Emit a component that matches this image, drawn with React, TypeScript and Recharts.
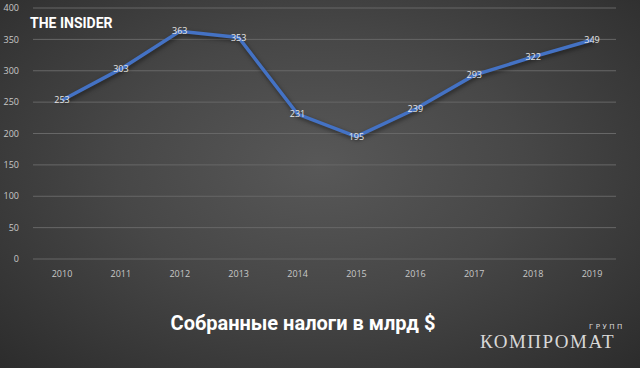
import { LineChart, Line, XAxis, YAxis, CartesianGrid, LabelList } from "recharts";

const years = ["2010", "2011", "2012", "2013", "2014", "2015", "2016", "2017", "2018", "2019"];
const taxes = [253, 303, 363, 353, 231, 195, 239, 293, 322, 349];
const yTicks = [0, 50, 100, 150, 200, 250, 300, 350, 400];

const data = years.map((year, i) => ({ year, value: taxes[i] }));

export default function App() {
  return (
    <div
      style={{
        position: "absolute",
        left: 0,
        top: 0,
        width: 640,
        height: 368,
        overflow: "hidden",
        background: "radial-gradient(ellipse at 50% 45%, #585858 0%, #474747 45%, #2c2c2c 100%)",
        fontFamily: "Roboto, 'Open Sans', sans-serif",
      }}
    >
      <LineChart
        width={640}
        height={290}
        data={data}
        margin={{ top: 8, right: 24, bottom: 0, left: 0 }}
      >
        <CartesianGrid vertical={false} stroke="#676767" strokeWidth={1} />
        <XAxis
          dataKey="year"
          axisLine={false}
          tickLine={false}
          height={31}
          tickMargin={6}
          padding={{ left: 29, right: 24 }}
          tick={{ fill: "#c8c8c8", fontSize: 9, fontFamily: "'Open Sans', sans-serif" }}
        />
        <YAxis
          width={33}
          domain={[0, 400]}
          ticks={yTicks}
          axisLine={false}
          tickLine={false}
          tickMargin={8}
          tick={{ fill: "#c8c8c8", fontSize: 9, fontFamily: "'Open Sans', sans-serif" }}
        />
        <Line
          type="linear"
          dataKey="value"
          stroke="#4472c4"
          strokeWidth={3.5}
          dot={false}
          isAnimationActive={false}
          style={{ filter: "drop-shadow(1px 2px 2px rgba(0,0,0,0.5))" }}
        >
          <LabelList
            dataKey="value"
            position="center"
            fill="#e6e6e6"
            fontSize={9}
            fontFamily="'Open Sans', sans-serif"
          />
        </Line>
      </LineChart>
      <div
        style={{
          position: "absolute",
          left: 30,
          top: 15,
          color: "#ffffff",
          fontWeight: 700,
          fontSize: 14,
          fontFamily: "Roboto, sans-serif",
        }}
      >
        THE INSIDER
      </div>
      <div
        style={{
          position: "absolute",
          left: 0,
          width: 606,
          top: 311,
          textAlign: "center",
          color: "#ffffff",
          fontWeight: 700,
          fontSize: 20,
          fontFamily: "Roboto, sans-serif",
        }}
      >
        Собранные налоги в млрд $
      </div>
      <div
        style={{
          position: "absolute",
          left: 589,
          top: 323,
          color: "#dcdcdc",
          fontSize: 7,
          lineHeight: "8px",
          letterSpacing: 2.5,
          fontFamily: "'DejaVu Sans', sans-serif",
        }}
      >
        ГРУПП
      </div>
      <div
        style={{
          position: "absolute",
          left: 480,
          top: 333,
          color: "#d8d8d8",
          fontSize: 19,
          lineHeight: "17px",
          letterSpacing: 1.5,
          fontFamily: "'Liberation Serif', 'DejaVu Serif', serif",
        }}
      >
        КОМПРОМАТ
      </div>
    </div>
  );
}
